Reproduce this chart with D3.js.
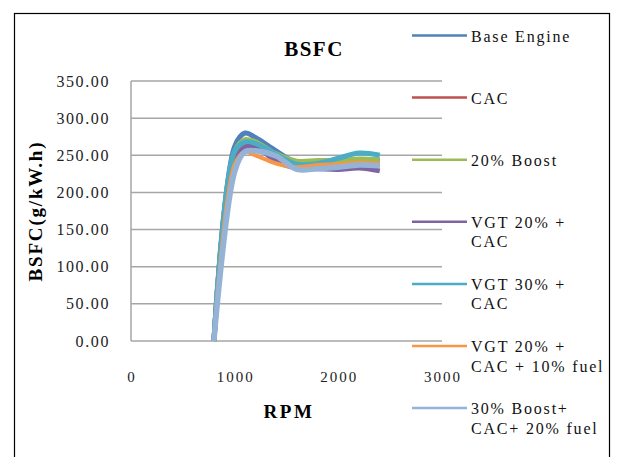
<!DOCTYPE html>
<html>
<head>
<meta charset="utf-8">
<script src="https://cdn.jsdelivr.net/npm/d3@7"></script>
<style>
  html, body { margin: 0; padding: 0; background: #fff; }
  svg { display: block; font-family: "Liberation Serif", "Times New Roman", serif; }
</style>
</head>
<body>
<svg id="chart" width="617" height="457"></svg>
<script>
// ---- data ----
const rpm = [800, 1000, 1100, 1200, 1400, 1600, 1800, 2000, 2200, 2400];
const seriesNames = [
  "Base Engine",
  "CAC",
  "20% Boost",
  "VGT 20% +\nCAC",
  "VGT 30% +\nCAC",
  "VGT 20% +\nCAC + 10% fuel",
  "30% Boost+\nCAC+ 20% fuel"
];
const seriesColors = ["#4F81BD", "#C0504D", "#9BBB59", "#8064A2", "#4BACC6", "#F79646", "#95B3D7"];
const baseEngine   = [0, 262, 280, 274, 256, 240, 240, 241, 243, 242];
const cac          = [0, 252, 266, 266, 250, 234, 236, 237, 239, 237];
const boost20      = [0, 255, 271, 268, 252, 242, 243, 243, 245, 244];
const vgt20cac     = [0, 245, 262, 262, 242, 233, 232, 231, 233, 229];
const vgt30cac     = [0, 255, 268, 266, 251, 238, 239, 246, 253, 250];
const vgt20cacFuel = [0, 238, 255, 250, 239, 234, 237, 238, 240, 239];
const boost30Fuel  = [0, 228, 255, 256, 249, 231, 232, 234, 237, 236];
const seriesValues = [baseEngine, cac, boost20, vgt20cac, vgt30cac, vgt20cacFuel, boost30Fuel];
const yTicks = [0, 50, 100, 150, 200, 250, 300, 350];
const xTicks = [0, 1000, 2000, 3000];

// ---- layout ----
const svg = d3.select("#chart");
const L = 131, R = 442, T = 81, B = 341;
const x = d3.scaleLinear().domain([0, 3000]).range([L, R]);
const y = d3.scaleLinear().domain([0, 350]).range([B, T]);

// outer border
svg.append("rect")
  .attr("x", 14.5).attr("y", 13.5)
  .attr("width", 595).attr("height", 460)
  .attr("fill", "#fff").attr("stroke", "#000").attr("stroke-width", 1.2);

// gridlines
svg.append("g").selectAll("line").data(yTicks).join("line")
  .attr("x1", L).attr("x2", R)
  .attr("y1", d => y(d)).attr("y2", d => y(d))
  .attr("stroke", "#a6a6a6").attr("stroke-width", 1.5);
// vertical axis line
svg.append("line")
  .attr("x1", L).attr("x2", L).attr("y1", T).attr("y2", B)
  .attr("stroke", "#a6a6a6").attr("stroke-width", 1.5);

// y tick labels
svg.append("g").selectAll("text").data(yTicks).join("text")
  .attr("x", 110).attr("y", d => y(d) + 5.5)
  .attr("text-anchor", "end")
  .style("font-size", "16px").style("letter-spacing", "1.6px")
  .attr("fill", "#222")
  .text(d => d3.format(".2f")(d));

// x tick labels
svg.append("g").selectAll("text").data(xTicks).join("text")
  .attr("x", d => x(d) + 1).attr("y", 382)
  .attr("text-anchor", "middle")
  .style("font-size", "15px").style("letter-spacing", "2px")
  .attr("fill", "#222")
  .text(d => d);

// titles
svg.append("text").attr("x", 314).attr("y", 56)
  .attr("text-anchor", "middle").attr("font-weight", "bold")
  .style("font-size", "21px").style("letter-spacing", "1.5px")
  .text("BSFC");
svg.append("text").attr("x", 289).attr("y", 418)
  .attr("text-anchor", "middle").attr("font-weight", "bold")
  .style("font-size", "19px").style("letter-spacing", "2.5px")
  .text("RPM");
svg.append("text")
  .attr("transform", "translate(42,211) rotate(-90)")
  .attr("text-anchor", "middle").attr("font-weight", "bold")
  .style("font-size", "19px").style("letter-spacing", "1.8px")
  .text("BSFC(g/kW.h)");

// lines (smoothed like the original spreadsheet chart)
const line = d3.line()
  .x((d, i) => x(rpm[i]))
  .y(d => y(d))
  .curve(d3.curveCatmullRom.alpha(0.5));
svg.append("g").selectAll("path").data(seriesValues).join("path")
  .attr("d", d => line(d))
  .attr("fill", "none")
  .attr("stroke", (d, i) => seriesColors[i])
  .attr("stroke-width", (d, i) => i === 6 ? 5.5 : (i === 5 ? 4 : 5))
  .attr("stroke-linejoin", "round")
  .attr("stroke-linecap", "butt");

// legend
const lg = svg.append("g");
seriesNames.forEach((name, i) => {
  const ly = 35.5 + i * 62.1;
  lg.append("line")
    .attr("x1", 412).attr("x2", 467).attr("y1", ly).attr("y2", ly)
    .attr("stroke", seriesColors[i]).attr("stroke-width", 2.5);
  const t = lg.append("text").attr("x", 471).attr("y", ly + 6)
    .style("font-size", "16px").style("letter-spacing", "1.8px").attr("fill", "#111");
  name.split("\n").forEach((part, j) => {
    t.append("tspan").attr("x", 471).attr("dy", j === 0 ? 0 : 19.5).text(part);
  });
});
</script>
</body>
</html>
